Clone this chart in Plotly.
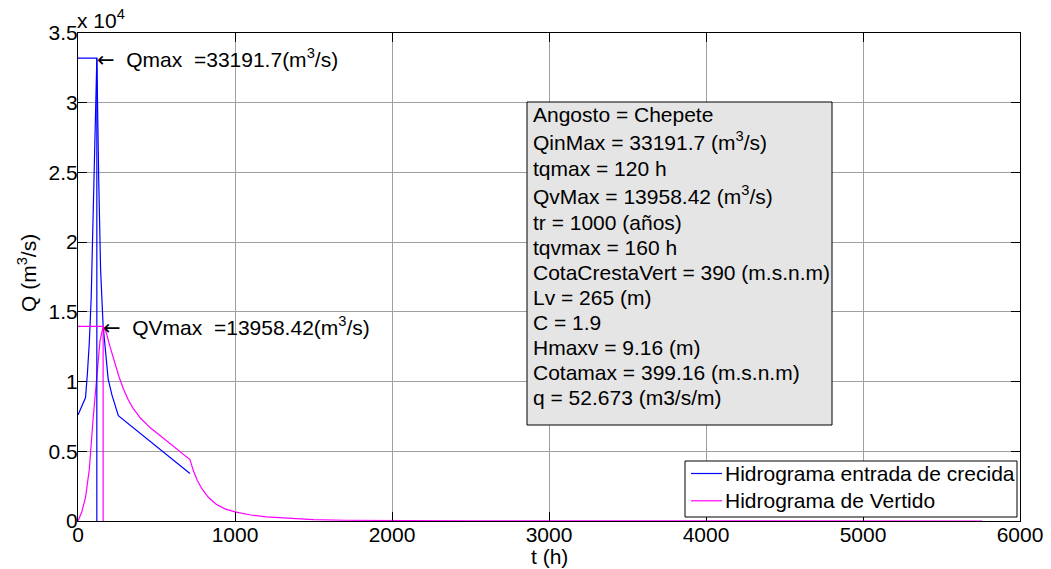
import plotly.graph_objects as go

# Inflow flood hydrograph: time (h) and discharge (m3/s)
t_in = [0, 48, 60, 72, 84, 96, 108, 120, 132, 144, 160, 176, 192, 216, 257, 713]
q_in = [7600, 8850, 10600, 12800, 16000, 21500, 28000, 33191.7,
        24500, 18000, 14000, 11800, 10200, 9050, 7550, 3400]

# Spillway outflow hydrograph: time (h) and discharge (m3/s)
t_out = [0, 24, 48, 72, 96, 120, 140, 160, 180, 204, 230, 260, 290, 320, 350, 400,
         459, 565, 640, 713, 735, 760, 790, 830, 880, 940, 1000, 1100, 1200, 1350,
         1500, 1700, 2000, 2500, 3000, 4000, 5000, 5760]
q_out = [0, 650, 1700, 3700, 7300, 10500, 12900, 13958.42, 13500, 12500, 11450, 10380,
         9450, 8700, 8100, 7350, 6700, 5760, 5080, 4400, 3600, 2900, 2300, 1700, 1200,
         850, 650, 430, 290, 170, 100, 55, 28, 12, 6, 2, 1, 0.5]

# Axis ticks (Q shown in units of 10^4)
x_ticks = [0, 1000, 2000, 3000, 4000, 5000, 6000]
y_ticks = [0, 5000, 10000, 15000, 20000, 25000, 30000, 35000]
y_tick_text = ["0", "0.5", "1", "1.5", "2", "2.5", "3", "3.5"]

# Dam / spillway parameters
angosto = "Chepete"
tr_years = 1000
cota_cresta = 390
lv = 265
c_coef = 1.9
hmaxv = 9.16
cotamax = 399.16
q_unit = 52.673

series_names = ["Hidrograma entrada de crecida", "Hidrograma de Vertido"]

i_in = q_in.index(max(q_in))
qmax, tqmax = q_in[i_in], t_in[i_in]
i_out = q_out.index(max(q_out))
qvmax, tqvmax = q_out[i_out], t_out[i_out]

BLUE = "#0000ff"
MAGENTA = "#ff00ff"
FONT = "Liberation Sans, Arial, Helvetica, sans-serif"
ARROW = '<span style="font-family:DejaVu Sans">\u2190</span>'
FS = 21
LW = 1.2

W, H = 1051, 569
L, R, T, B = 78, 1020, 33, 521


def paper(xp, yp):
    """Pixel position in the page -> paper coordinates."""
    return (xp - L) / (R - L), (B - yp) / (B - T)


fig = go.Figure()

colors = [BLUE, MAGENTA]
fig.add_trace(go.Scatter(x=t_in, y=q_in, mode="lines", name=series_names[0],
                         line=dict(color=BLUE, width=LW), showlegend=False))
fig.add_trace(go.Scatter(x=t_out, y=q_out, mode="lines", name=series_names[1],
                         line=dict(color=MAGENTA, width=LW), showlegend=False))

# Peak guide lines
fig.add_trace(go.Scatter(x=[0, tqmax, tqmax], y=[qmax, qmax, 0], mode="lines",
                         line=dict(color=BLUE, width=LW), showlegend=False))
fig.add_trace(go.Scatter(x=[0, tqvmax, tqvmax], y=[qvmax, qvmax, 0], mode="lines",
                         line=dict(color=MAGENTA, width=LW), showlegend=False))

nb = "\u00a0"
annotations = [
    dict(x=tqmax, y=qmax, xref="x", yref="y", xanchor="left", yanchor="middle",
         text=f"{ARROW}{nb*2}Qmax{nb*2}={qmax:.1f}(m<sup>3</sup>/s)", showarrow=False,
         font=dict(size=FS), xshift=-2),
    dict(x=tqvmax, y=qvmax, xref="x", yref="y", xanchor="left", yanchor="middle",
         text=f"{ARROW}{nb*2}QVmax{nb*2}={qvmax:.2f}(m<sup>3</sup>/s)", showarrow=False,
         font=dict(size=FS), xshift=-2),
]

# Exponent label of the Q axis
ex, ey = paper(78, 19)
annotations.append(dict(x=ex, y=ey, xref="paper", yref="paper", xanchor="left",
                        yanchor="middle", text="x 10<sup>4</sup>", showarrow=False,
                        font=dict(size=FS), xshift=-3))

# Axis titles
tx, ty = paper(549, 556)
annotations.append(dict(x=tx, y=ty, xref="paper", yref="paper", xanchor="center",
                        yanchor="middle", text="t (h)", showarrow=False, font=dict(size=FS)))
qx, qy = paper(27, 273)
annotations.append(dict(x=qx, y=qy, xref="paper", yref="paper", xanchor="center",
                        yanchor="middle", text="Q (m<sup>3</sup>/s)", textangle=-90,
                        showarrow=False, font=dict(size=FS)))

shapes = []

# Parameter box
info_lines = [
    f"Angosto = {angosto}",
    f"QinMax = {qmax:.1f} (m<sup>3</sup>/s)",
    f"tqmax = {tqmax} h",
    f"QvMax = {qvmax:.2f} (m<sup>3</sup>/s)",
    f"tr = {tr_years} (años)",
    f"tqvmax = {tqvmax} h",
    f"CotaCrestaVert = {cota_cresta} (m.s.n.m)",
    f"Lv = {lv} (m)",
    f"C = {c_coef}",
    f"Hmaxv = {hmaxv} (m)",
    f"Cotamax = {cotamax} (m.s.n.m)",
    f"q = {q_unit} (m3/s/m)",
]
bx0, by0 = paper(527, 102)
bx1, by1 = paper(832, 425)
shapes.append(dict(type="rect", xref="paper", yref="paper", x0=bx0, y0=by1, x1=bx1, y1=by0,
                   fillcolor="#e5e5e5", line=dict(color="black", width=1), layer="above"))

yc = 114.5
for i, line in enumerate(info_lines):
    if i > 0:
        yc += 25 + (3 if i in (1, 3) else 0) + (1 if i in (2, 4) else 0)
    px_, py_ = paper(531, yc - (1.5 if "<sup>" in line else 0))
    annotations.append(dict(x=px_, y=py_, xref="paper", yref="paper", xanchor="left",
                            yanchor="middle", text=line, showarrow=False,
                            font=dict(size=FS)))

# Legend box
lx0, ly0 = paper(685, 461)
lx1, ly1 = paper(1017, 517)
shapes.append(dict(type="rect", xref="paper", yref="paper", x0=lx0, y0=ly1, x1=lx1, y1=ly0,
                   fillcolor="white", line=dict(color="black", width=1), layer="above"))
for k, (name, col) in enumerate(zip(series_names, colors)):
    row_y = 473.5 + 27.3 * k
    sx0, sy = paper(691, row_y)
    sx1, _ = paper(722, row_y)
    shapes.append(dict(type="line", xref="paper", yref="paper", x0=sx0, x1=sx1, y0=sy, y1=sy,
                       line=dict(color=col, width=LW), layer="above"))
    nx, ny = paper(723, row_y)
    annotations.append(dict(x=nx, y=ny, xref="paper", yref="paper", xanchor="left",
                            yanchor="middle", text=name, showarrow=False,
                            font=dict(size=FS)))

axis_common = dict(showline=True, linecolor="black", linewidth=1, mirror="ticks",
                   ticks="inside", ticklen=9, tickcolor="black", showgrid=True,
                   gridcolor="#a0a0a0", gridwidth=1, zeroline=False,
                   tickfont=dict(size=FS))

fig.update_layout(
    width=W, height=H,
    margin=dict(l=L, r=W - R, t=T, b=H - B, autoexpand=False),
    paper_bgcolor="white", plot_bgcolor="white",
    font=dict(family=FONT, size=FS, color="black"),
    xaxis=dict(range=[0, 6000], tickvals=x_ticks, ticklabelstandoff=-5, **axis_common),
    yaxis=dict(range=[0, 35000], tickvals=y_ticks, ticktext=y_tick_text,
               ticklabelstandoff=-5, **axis_common),
    shapes=shapes,
    annotations=annotations,
    showlegend=False,
)

fig.write_html("out.html")
